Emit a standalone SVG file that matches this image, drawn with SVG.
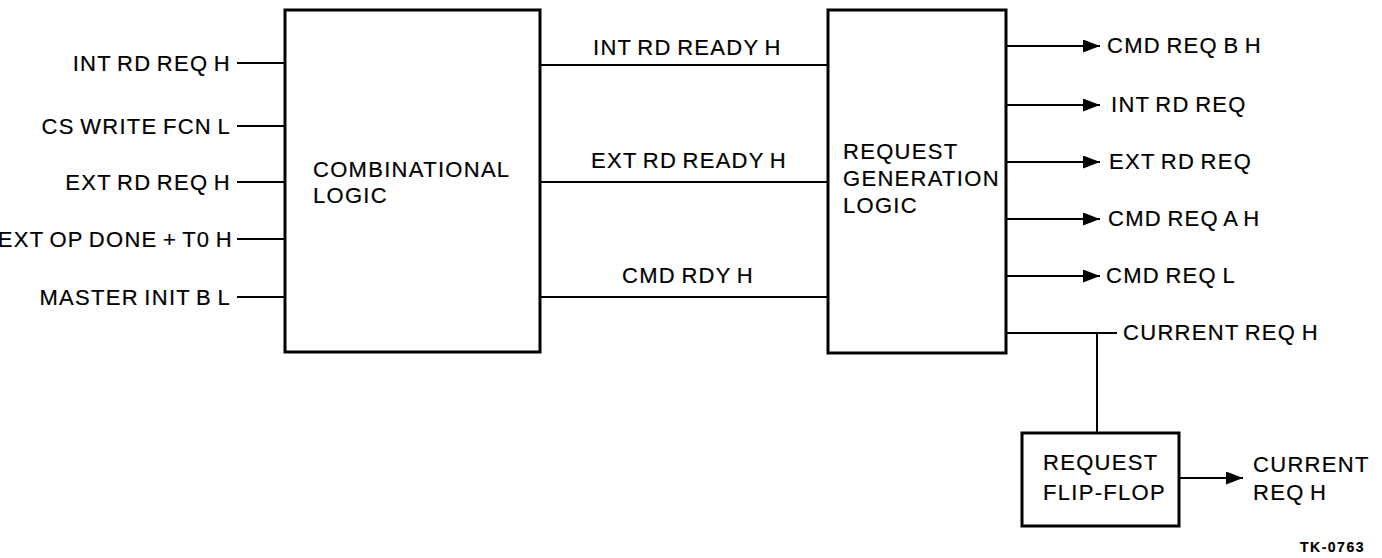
<svg xmlns="http://www.w3.org/2000/svg" width="1382" height="558" viewBox="0 0 1382 558">
<style>
text{font-family:"Liberation Sans",Arial,sans-serif;font-size:22px;fill:#000;stroke:#000;stroke-width:0.2;letter-spacing:1.3px;word-spacing:-2px}
.box{fill:#fff;stroke:#000;stroke-width:3}
.w{stroke:#000;stroke-width:2;fill:none}
.end{text-anchor:end}
.tk{font-size:14px;font-weight:bold;letter-spacing:1.5px;word-spacing:0}
</style>
<defs>
<marker id="ah" markerUnits="userSpaceOnUse" markerWidth="20" markerHeight="14" refX="17" refY="6.5" orient="auto">
<path d="M0,0 L17,6.5 L0,13 Z" fill="#000"/>
</marker>
</defs>
<rect width="1382" height="558" fill="#fff"/>
<g id="connectors">
<line class="w" x1="237" y1="63" x2="285" y2="63"/>
<line class="w" x1="237" y1="126" x2="285" y2="126"/>
<line class="w" x1="237" y1="182" x2="285" y2="182"/>
<line class="w" x1="237" y1="239" x2="285" y2="239"/>
<line class="w" x1="237" y1="297" x2="285" y2="297"/>
<line class="w" x1="540" y1="65" x2="828" y2="65"/>
<line class="w" x1="540" y1="182" x2="828" y2="182"/>
<line class="w" x1="540" y1="297" x2="828" y2="297"/>
<line class="w" x1="1006" y1="46" x2="1100" y2="46" marker-end="url(#ah)"/>
<line class="w" x1="1006" y1="105" x2="1100" y2="105" marker-end="url(#ah)"/>
<line class="w" x1="1006" y1="162" x2="1100" y2="162" marker-end="url(#ah)"/>
<line class="w" x1="1006" y1="219" x2="1100" y2="219" marker-end="url(#ah)"/>
<line class="w" x1="1006" y1="276" x2="1100" y2="276" marker-end="url(#ah)"/>
<line class="w" x1="1006" y1="333" x2="1117" y2="333"/>
<line class="w" x1="1097" y1="333" x2="1097" y2="433"/>
<line class="w" x1="1179" y1="478" x2="1243" y2="478" marker-end="url(#ah)"/>
</g>
<g id="inputs">
<text class="end" x="231" y="71">INT RD REQ H</text>
<text class="end" x="231" y="134">CS WRITE FCN L</text>
<text class="end" x="231" y="190">EXT RD REQ H</text>
<text class="end" x="233" y="247">EXT OP DONE + T0 H</text>
<text class="end" x="231" y="305">MASTER INIT B L</text>
</g>
<g id="combinational-logic">
<rect class="box" x="285" y="10" width="255" height="342"/>
<text x="313" y="177">COMBINATIONAL</text>
<text x="313" y="203">LOGIC</text>
</g>
<g id="mid-labels">
<text x="593" y="55">INT RD READY H</text>
<text x="591" y="168">EXT RD READY H</text>
<text x="622" y="283">CMD RDY H</text>
</g>
<g id="request-generation-logic">
<rect class="box" x="828" y="10" width="178" height="343"/>
<text x="843" y="159">REQUEST</text>
<text x="843" y="186">GENERATION</text>
<text x="843" y="213">LOGIC</text>
</g>
<g id="outputs">
<text x="1107" y="53">CMD REQ B H</text>
<text x="1111" y="112">INT RD REQ</text>
<text x="1109" y="169">EXT RD REQ</text>
<text x="1108" y="226">CMD REQ A H</text>
<text x="1106" y="283">CMD REQ L</text>
<text x="1123" y="340">CURRENT REQ H</text>
</g>
<g id="request-flip-flop">
<rect class="box" x="1022" y="433" width="157" height="93"/>
<text x="1043" y="470">REQUEST</text>
<text x="1043" y="500">FLIP-FLOP</text>
</g>
<g id="ff-output">
<text x="1253" y="472">CURRENT</text>
<text x="1253" y="500">REQ H</text>
</g>
<text class="tk" x="1300" y="552">TK-0763</text>
</svg>
